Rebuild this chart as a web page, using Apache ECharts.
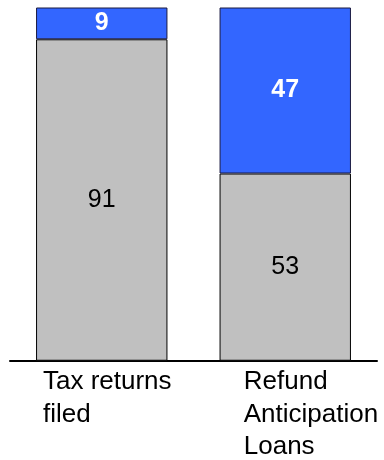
<!DOCTYPE html>
<html>
<head>
<meta charset="utf-8">
<script src="https://cdn.jsdelivr.net/npm/echarts@6/dist/echarts.min.js"></script>
<style>
  html, body { margin: 0; padding: 0; background: #fff; }
  #chart { width: 384px; height: 460px; }
</style>
</head>
<body>
<div id="chart"></div>
<script>
// Share of each group (percent): bottom segment and top segment
const categories = ['Tax returns\nfiled', 'Refund\nAnticipation\nLoans'];
const lowerShare = [91, 53];
const upperShare = [9, 47];

const FONT = '"Liberation Sans", Arial, Helvetica, sans-serif';

const chart = echarts.init(document.getElementById('chart'), null, { renderer: 'canvas' });

chart.setOption({
  animation: false,
  backgroundColor: '#ffffff',
  grid: { left: 10, right: 7, top: 7.5, bottom: 98.5, containLabel: false },
  xAxis: {
    type: 'category',
    data: categories,
    axisLine: { show: true, lineStyle: { color: '#000', width: 2 } },
    axisTick: { show: false },
    axisLabel: {
      interval: 0,
      margin: 5,
      align: 'center',
      verticalAlign: 'top',
      // left-aligned lines inside a fixed-width block per category
      formatter: function (value, idx) {
        const key = idx === 0 ? 'a' : 'b';
        return value.split('\n').map(function (s) { return '{' + key + '|' + s + '}'; }).join('\n');
      },
      rich: {
        a: { width: 117.6, align: 'left', fontSize: 26, lineHeight: 32.5, fontFamily: FONT, color: '#000' },
        b: { width: 83, align: 'left', fontSize: 26, lineHeight: 32.5, fontFamily: FONT, color: '#000' }
      }
    }
  },
  yAxis: {
    type: 'value',
    min: 0,
    max: 100,
    show: false,
    splitLine: { show: false }
  },
  series: [
    {
      type: 'bar',
      stack: 'total',
      data: lowerShare,
      barWidth: '71.6%',
      itemStyle: { color: '#c0c0c0', borderColor: '#000', borderWidth: 1 },
      label: {
        show: true,
        position: 'inside',
        color: '#000',
        fontSize: 25,
        fontFamily: FONT
      }
    },
    {
      type: 'bar',
      stack: 'total',
      data: upperShare,
      barWidth: '71.6%',
      itemStyle: { color: '#3366ff', borderColor: '#1a1a40', borderWidth: 1 },
      label: {
        show: true,
        position: 'inside',
        color: '#fff',
        fontWeight: 'bold',
        fontSize: 25,
        fontFamily: FONT
      }
    }
  ]
});
</script>
</body>
</html>
